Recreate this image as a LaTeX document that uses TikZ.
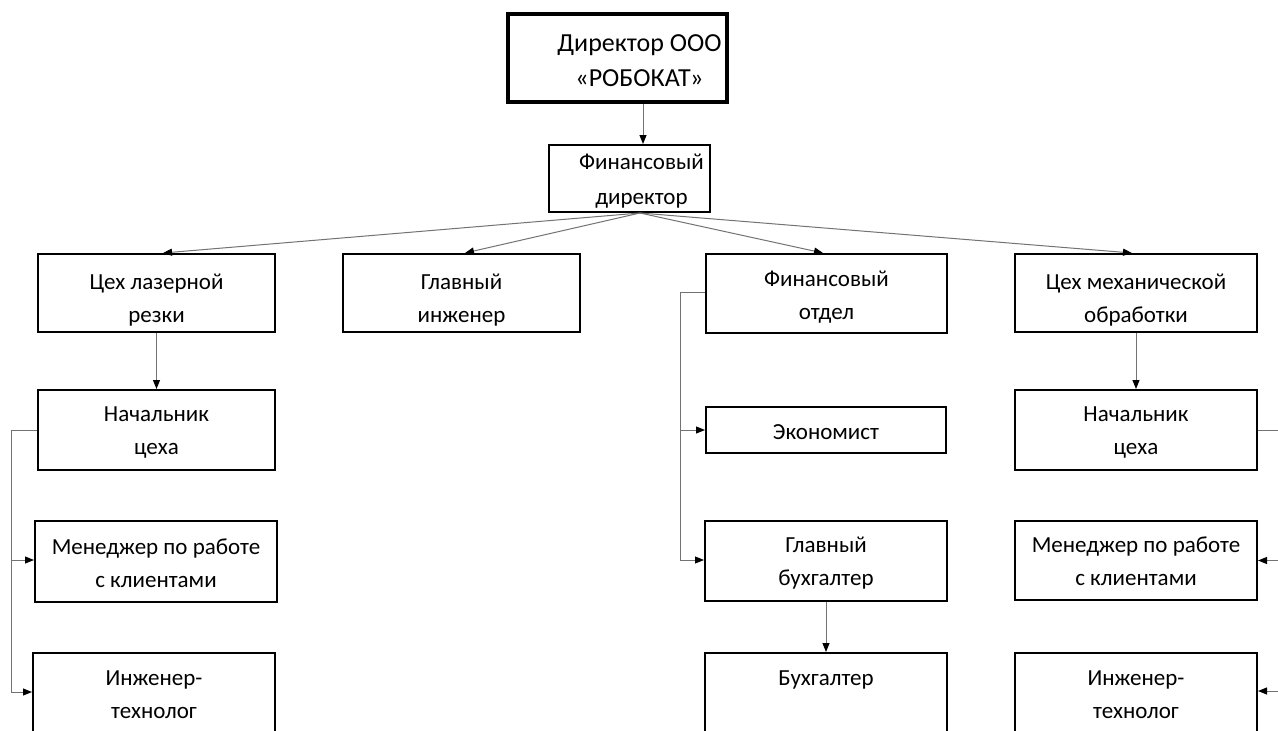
\documentclass[tikz,border=0pt]{standalone}
\usepackage{fontspec}
\setmainfont{Carlito}
\usetikzlibrary{arrows.meta,calc}
\definecolor{linegray}{RGB}{115,115,115}
\begin{document}
\begin{tikzpicture}[x=1pt,y=-1pt,
  box/.style={draw=black,line width=2pt,inner sep=0pt},
  topbox/.style={draw=black,line width=4pt,inner sep=0pt},
  txt/.style={inner sep=0pt,align=center,font=\fontsize{23}{33}\selectfont},
  toptxt/.style={inner sep=0pt,align=center,font=\fontsize{26}{35}\selectfont},
  conn/.style={draw=linegray,line width=1pt,
    -{Triangle[length=9pt,width=7pt,color=black]}},
  plain/.style={draw=linegray,line width=1pt}]
\useasboundingbox (0,0) rectangle (1278,731);
\fill[white] (0,0) rectangle (1278,731);
\clip (0,0) rectangle (1278,731);

% boxes
\node[topbox,minimum width=219pt,minimum height=88pt] (dir) at (617.5,58) {};
\node[box,minimum width=161pt,minimum height=67pt] (fd) at (629.5,178.5) {};

\node[box,minimum width=237pt,minimum height=78pt] (lz) at (156.5,293) {};
\node[box,minimum width=237pt,minimum height=78pt] (gi) at (461.5,293) {};
\node[box,minimum width=241pt,minimum height=79pt] (fo) at (826.5,293.5) {};
\node[box,minimum width=242pt,minimum height=78pt] (cm) at (1136,293) {};

\node[box,minimum width=237pt,minimum height=80pt] (nl) at (156.5,430) {};
\node[box,minimum width=240pt,minimum height=46pt] (ek) at (826,430) {};
\node[box,minimum width=242pt,minimum height=80pt] (nr) at (1136,430) {};

\node[box,minimum width=242pt,minimum height=81pt] (ml) at (156,561.5) {};
\node[box,minimum width=242pt,minimum height=80pt] (gb) at (826,561) {};
\node[box,minimum width=242pt,minimum height=79pt] (mr) at (1136,560.5) {};

\node[box,minimum width=242pt,minimum height=110pt] (il) at (154,708) {};
\node[box,minimum width=242pt,minimum height=110pt] (bh) at (826,708) {};
\node[box,minimum width=242pt,minimum height=110pt] (ir) at (1136,708) {};

% texts
\node[toptxt] (dirt) at ([xshift=22pt,yshift=-3pt]dir.center) {Директор ООО\\«РОБОКАТ»};
\node[txt,font=\fontsize{23}{35}\selectfont] (fdt) at ([xshift=12pt,yshift=-3pt]fd.center) {Финансовый\\директор};
\node[txt] (lzt) at ([yshift=-7pt]lz.center) {Цех лазерной\\резки};
\node[txt] (git) at ([yshift=-7pt]gi.center) {Главный\\инженер};
\node[txt] (fot) at ([yshift=-4pt]fo.center) {Финансовый\\отдел};
\node[txt] (cmt) at ([yshift=-7pt]cm.center) {Цех механической\\обработки};
\node[txt] (nlt) at ([yshift=-3pt]nl.center) {Начальник\\цеха};
\node[txt] (ekt) at ([yshift=-2pt]ek.center) {Экономист};
\node[txt] (nrt) at ([yshift=-3pt]nr.center) {Начальник\\цеха};
\node[txt] (mlt) at ([yshift=-2pt]ml.center) {Менеджер по работе\\с клиентами};
\node[txt] (gbt) at ([yshift=-2pt]gb.center) {Главный\\бухгалтер};
\node[txt] (mrt) at ([yshift=-1pt]mr.center) {Менеджер по работе\\с клиентами};
\node[txt] (ilt) at ([yshift=13pt]il.center) {Инженер-\\технолог};
\node[txt,anchor=base] (bht) at ([yshift=-33pt]bh.north) {Бухгалтер};
\node[txt] (irt) at ([yshift=13pt]ir.center) {Инженер-\\технолог};

% director -> financial director
\coordinate (cx) at (643,0);
\draw[conn] (dir.south -| cx) -- (fd.north -| cx);

% fan from financial director
\coordinate (fan) at (640,213);
\draw[conn] (fan) -- ([xshift=6.5pt]lz.north);
\draw[conn] (fan) -- ([xshift=3.5pt]gi.north);
\draw[conn] (fan) -- ([xshift=-3.5pt]fo.north);
\draw[conn] (fan) -- ([xshift=-4pt]cm.north);

% vertical arrows
\draw[conn] (lz.south) -- (nl.north);
\draw[conn] (cm.south) -- (nr.north);
\draw[conn] (gb.south) -- (bh.north);

% left branch
\coordinate (lb) at ($(nl.west)+(-26,0)$);
\draw[plain] (nl.west) -- (lb);
\draw[conn] (lb) |- ([yshift=1.5pt]ml.west);
\draw[conn] (lb) |- ([yshift=-40pt]il.north west);

% financial department branch
\coordinate (fb) at ($(fo.west)+(-25,-1.5)$);
\draw[plain] ([yshift=1.5pt]fo.west) -- (fb);
\draw[conn] (fb) |- (ek.west);
\draw[conn] (fb) |- ([yshift=1pt]gb.west);

% right branch (vertical line beyond the right edge)
\coordinate (rb) at ($(nr.east)+(40,0)$);
\draw[plain] (nr.east) -- (rb);
\draw[conn] (rb) |- (mr.east);
\draw[conn] (rb) |- ([yshift=-39pt]ir.north east);
\end{tikzpicture}
\end{document}
